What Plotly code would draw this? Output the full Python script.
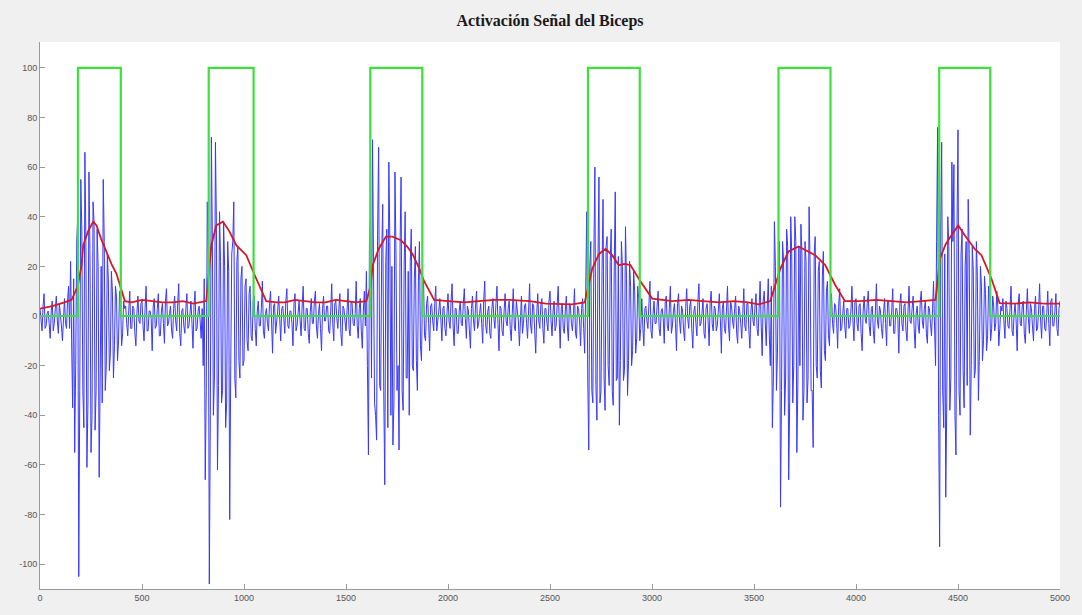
import numpy as np
import plotly.graph_objects as go

# ---------------- data ----------------
STEP = 10

rest0_start, rest0 = 0, [3, -6, 9, -4, 2, -9, 6, -3, 8, -7, 1, -10, 7, -5, 12]
rest0_fill = [-2, 4, -5, 1, -3, 2, -6, 3, -2, 5, -4, 2, -3, 6, -5]

burst1_start, burst1 = 150, [22, -37, -55, 30, -105, 55, -30, 66, -61, 58, -55, 46, -46, 35,
                             -65, 20, 55, -30, 25, -22, 18, -25, 12, -18, 10, -12, 6]
burst1_fill = [-10, 15, -20, 40, -30, 35, -45, 30, -35, 25, -40, 38, -30, 20, -25, -35, 30, -20,
               15, -15, 10, -12, 8, -10, 6, -7, 3]

rest1_start, rest1 = 420, [4, -8, 10, -5, 3, -12, 8, -3, 6, -10, 12, -6, 2, -14, 7, -4, 9, -8, 5,
                           -11, 11, -3, 4, -9, 8, -6, 13, -12, 3, -7, 9, -4, 6, -13, 10, -5, 4, -9]
rest1_fill = [-3, 2, -5, 4, -7, 1, -2, 5, -4, 3, -6, 2, -1, 4, -5, 3, -8, 2, -3, 6, -4, 1, -6, 3,
              -2, 5, -7, 2, -4, 3, -5, 1, -3, 4, -6, 2, -2, 3]

burst2_start, burst2 = 800, [-20, -66, 46, -108, 72, -40, 70, -62, 42, -35, 38, -45, 30, -82,
                             25, 46, -33, 28, -25, 20, -18, 15, -14, 12, -10, 8]
burst2_fill = [15, -30, 25, -40, 30, -25, 35, -28, 22, -30, 20, -35, 18, -20, 30, -25, 22, -18,
               15, -20, 12, -10, 9, -8, 6, -5]

rest2_start, rest2 = 1060, [-12, 6, -4, 14, -9, 3, -6, 10, -15, 5, -3, 8, -10, 4, -7, 11, -5, 2,
                            -12, 9, -4, 6, -8, 12, -6, 3, -11, 7, -3, 10, -9, 5, -14, 8, -2, 4,
                            -7, 13, -10, 6, -5, 9, -12, 3, -6, 11, -8, 5, -4, 14, -9, 7, -13, 10]
rest2_fill = [2, -4, 3, -6, 1, -3, 5, -2, 4, -7, 2, -5, 3, -1, 6, -4, 2, -3, 5, -6, 1, -2, 4, -5,
              3, -7, 2, -3, 6, -4, 1, -5, 3, -2, 4, -6, 2, -3, 5, -1, 3, -7, 4, -2, 2, -5, 6, -3,
              1, -4, 3, -6, 2, -4]

burst3_start, burst3 = 1600, [18, -56, 40, 71, -35, -50, 68, -30, 45, -68, 35, 62, -40, -52, 58,
                              -30, -54, 56, -38, 42, -25, -40, 35, -22, 28, -30, 30, -18, 15, -10]
burst3_fill = [-20, 30, -25, 20, -40, 35, -28, 25, -30, 22, -45, 30, 20, -35, 25, -20, 28, -30,
               20, -25, 18, 22, -20, 15, -18, 14, -12, 10, -8, 5]

rest3_start, rest3 = 1900, [8, -14, 5, -6, 12, -3, 7, -10, 4, -8,
                            9, -5, 13, -12, 3, -7, 6, -4, 11, -9,
                            2, -13, 8, -6, 10, -3, 5, -11, 14, -7,
                            4, -9, 7, -5, 12, -14, 3, -8, 9, -4,
                            6, -10, 11, -6, 2, -12, 8, -3, 5, -9,
                            13, -7, 4, -15, 9, -5, 7, -11, 3, -6,
                            10, -8, 6, -4, 12, -13, 5, -7, 8, -10,
                            4, -6, 11, -9, 3, -12, 7]
rest3_fill = [-3, 4, -2, 5, -6, 2, -4, 3, -5, 1,
              -2, 6, -4, 3, -7, 2, -3, 5, -1, 4,
              -6, 3, -2, 4, -5, 1, -3, 6, -4, 2,
              -7, 3, -1, 5, -3, 4, -6, 2, -2, 3,
              -5, 1, -4, 6, -2, 3, -7, 4, -3, 2,
              -4, 5, -6, 1, -2, 4, -5, 3, -3, 6,
              -2, 2, -6, 4, -1, 3, -5, 2, -4, 5,
              -3, 1, -7, 4, -2, 3, -5]

burst4_start, burst4 = 2670, [-15, 42, -54, 30, -35, 60, -42, 56, -30, 47, -38, 32, -28, 35,
                              -36, 50, -25, -44, 30, -26, 36, -32, 22, -20, 18, -15, 12, -10]
burst4_fill = [10, -25, 20, -30, 25, -28, 22, -35, 18, -25, 28, -20, 22, -30, 20, -26, 24, -18,
               20, -22, 15, -18, 12, -14, 10, -9, 7, -5]

rest4_start, rest4 = 2950, [7, -12, 4, -5, 14, -9, 6, -3, 10, -8,
                            3, -11, 8, -6, 12, -4, 5, -14, 9, -7,
                            2, -10, 11, -5, 6, -13, 4, -8, 13, -3,
                            7, -9, 5, -12, 10, -6, 3, -4, 9, -15,
                            6, -7, 12, -10, 4, -5, 8, -11, 2, -9,
                            11, -6, 5, -13, 7, -4, 9, -8, 14, -16,
                            10, -12]
rest4_fill = [-4, 3, -2, 5, -6, 1, -3, 4, -5, 2,
              -1, 6, -4, 3, -7, 2, -3, 5, -2, 4,
              -6, 3, -1, 4, -5, 2, -3, 6, -4, 1,
              -7, 3, -2, 5, -3, 4, -6, 2, -1, 3,
              -5, 2, -4, 6, -2, 3, -7, 4, -3, 1,
              -4, 5, -6, 2, -2, 4, -5, 3, -3, 6,
              -2, 4]

burst5_start, burst5 = 3570, [15, -20, -45, 38, -30, 25, -77, 30, -40, 35, -66, 40, -35, 40,
                              -55, 28, 37, -42, 30, -35, 44, -30, -53, 32, -25, 22, -29, 26,
                              -18, 14, -12]
burst5_fill = [-8, 12, -25, 20, -15, 30, -30, 22, -25, 28, -35, 25, -20, 30, -28, -20, 25, -30,
               22, -25, 20, -30, 25, -20, 18, -22, 16, -14, 10, -8, 6]

rest5_start, rest5 = 3880, [9, -7, 4, -13, 11, -5, 6, -9, 3, -4,
                            12, -10, 7, -6, 5, -14, 8, -3, 10, -8,
                            4, -11, 13, -5, 2, -9, 7, -12, 6, -4,
                            11, -7, 3, -15, 9, -6, 5, -10, 12, -3,
                            8, -13, 4, -7, 10, -5, 6, -11, 3, -8,
                            14]
rest5_fill = [-3, 5, -2, 4, -6, 1, -4, 3, -5, 2,
              -2, 6, -3, 4, -7, 2, -1, 5, -4, 3,
              -6, 2, -2, 4, -5, 1, -3, 6, -4, 2,
              -7, 3, -1, 5, -3, 4, -6, 2, -2, 3,
              -5, 1, -4, 6, -2, 3, -7, 4, -3, 2,
              -4]

burst6_start, burst6 = 4390, [-20, 76, -93, 70, -45, -73, 40, -38, 62, 61, -56, 75, -40, 35,
                              -37, 30, 47, -48, 28, -25, 30, -34, 20, -18, 16, -14, 12, -10, 8]
burst6_fill = [30, -40, 35, -30, 25, -35, 28, -25, 30, -40, 35, -30, 25, -22, 20, -28, 25, -20,
               18, -22, 16, -15, 12, -10, 9, -8, 6, -5, 4]

rest6_start, rest6 = 4680, [-6, 10, -12, 4, 7, -9, 3, -5, 12, -8,
                            5, -14, 9, -4, 6, -11, 11, -7, 3, -10,
                            8, -5, 13, -9, 4, -6, 10, -12, 7, -4,
                            9, -8, 6]
rest6_fill = [-3, 4, -5, 2, -2, 6, -4, 3, -6, 1, -2, 5, -3, 4, -7, 2, -1, 5, -4, 3, -6, 2, -2, 4,
              -5, 1, -3, 6, -4, 2, -5, 3]

# envelope (red)
env_x = [0, 60, 120, 155, 185, 204, 212, 235, 261, 277, 300, 326, 350, 375, 400, 416, 450, 500,
         550, 600, 650, 700, 750, 815, 840, 864, 897, 929, 962, 1011, 1060, 1109, 1160, 1200,
         1250, 1300, 1350, 1400, 1450, 1500, 1550, 1600, 1620, 1631, 1660, 1696, 1728, 1769,
         1800, 1826, 1860, 1883, 1932, 2000, 2080, 2150, 2230, 2300, 2400, 2480, 2550, 2607,
         2670, 2682, 2707, 2740, 2772, 2805, 2837, 2865, 2894, 2943, 3001, 3100, 3180, 3250,
         3330, 3400, 3470, 3523, 3580, 3629, 3669, 3718, 3767, 3800, 3849, 3898, 3946, 4020,
         4100, 4180, 4250, 4320, 4390, 4411, 4440, 4468, 4501, 4533, 4582, 4615, 4664, 4704,
         4780, 4850, 4920, 5000]
env_y = [3, 4, 5.5, 6.5, 12, 20.5, 28.5, 34, 38, 36.5, 31, 26, 21, 17, 10, 6, 5.5, 6.5,
         6, 5.5, 5.5, 6, 5, 6, 28.5, 36.5, 38, 34, 28.5, 24.5, 15, 6, 5.5, 5.5,
         6.5, 6, 5.5, 5.5, 6.5, 6, 5.5, 6, 12, 20.5, 27, 32, 32, 30.5,
         28, 25, 19, 14, 6.5, 6, 5.5, 6, 6.5, 6.5, 6, 5, 5, 4.7,
         5.5, 10, 19, 25, 27, 24.5, 20.5, 21, 20.5, 14, 7, 6, 6.5, 6,
         5.5, 6, 5.5, 4.7, 6, 19, 26, 28, 26, 24.5, 20.5, 12.5, 6, 6,
         6.5, 6, 5.5, 6, 6.5, 23, 29, 32.5, 36.5, 32.5, 27, 24.5, 15, 5.2,
         5, 5.5, 5, 5]

# activation (green)
act_on = [186, 827, 1619, 2686, 3620, 4408]
act_off = [396, 1047, 1874, 2940, 3875, 4658]
act_level = 100

x_ticks = [0, 500, 1000, 1500, 2000, 2500, 3000, 3500, 4000, 4500, 5000]
y_ticks = [-100, -80, -60, -40, -20, 0, 20, 40, 60, 80, 100]

# ---------------- build ----------------
segments = [(rest0_start, rest0, rest0_fill), (burst1_start, burst1, burst1_fill),
            (rest1_start, rest1, rest1_fill), (burst2_start, burst2, burst2_fill),
            (rest2_start, rest2, rest2_fill), (burst3_start, burst3, burst3_fill),
            (rest3_start, rest3, rest3_fill), (burst4_start, burst4, burst4_fill),
            (rest4_start, rest4, rest4_fill), (burst5_start, burst5, burst5_fill),
            (rest5_start, rest5, rest5_fill), (burst6_start, burst6, burst6_fill),
            (rest6_start, rest6, rest6_fill)]
pts = []
for start, vals, fills in segments:
    pts.extend((start + STEP * i, v) for i, v in enumerate(vals))
    pts.extend((start + STEP * i + STEP / 2, v) for i, v in enumerate(fills))
pts.sort(key=lambda p: p[0])
emg_x = [p[0] for p in pts if p[0] <= 5000]
emg_y = [p[1] for p in pts if p[0] <= 5000]

gx, gy = [0], [0]
for on, off in zip(act_on, act_off):
    gx += [on, on, off, off]
    gy += [0, act_level, act_level, 0]
gx.append(5000)
gy.append(0)

fig = go.Figure()
fig.add_trace(go.Scatter(x=emg_x, y=emg_y, mode="lines",
                         line=dict(color="rgb(35,35,255)", width=1), opacity=0.9))
fig.add_trace(go.Scatter(x=env_x, y=env_y, mode="lines",
                         line=dict(color="rgb(215,25,35)", width=1.8)))
fig.add_trace(go.Scatter(x=gx, y=gy, mode="lines",
                         line=dict(color="rgb(60,225,60)", width=2.2)))

axis_common = dict(showgrid=False, zeroline=False, showline=True, linecolor="#9a9a9a",
                   linewidth=1, ticks="inside", ticklen=5, tickcolor="#9a9a9a",
                   tickfont=dict(family="Liberation Sans, Arial", size=9, color="#555555"),
                   mirror=False)
fig.update_xaxes(range=[0, 5000], tickvals=x_ticks, ticktext=[str(v) for v in x_ticks],
                 **axis_common)
fig.update_yaxes(range=[-110, 110.4], tickvals=y_ticks, ticktext=[str(v) for v in y_ticks],
                 **axis_common)

fig.update_layout(
    width=1082, height=615,
    margin=dict(l=40, r=20, t=42, b=25),
    paper_bgcolor="#f0f0f0", plot_bgcolor="white",
    showlegend=False,
    title=dict(text="<b>Activación Señal del Biceps</b>", x=0.5, xref="paper",
               y=1 - 20 / 615, yref="container", yanchor="middle", xanchor="center",
               font=dict(family="Liberation Serif, Times New Roman", size=16, color="#1a1a1a")),
)

fig.write_html("out.html")
